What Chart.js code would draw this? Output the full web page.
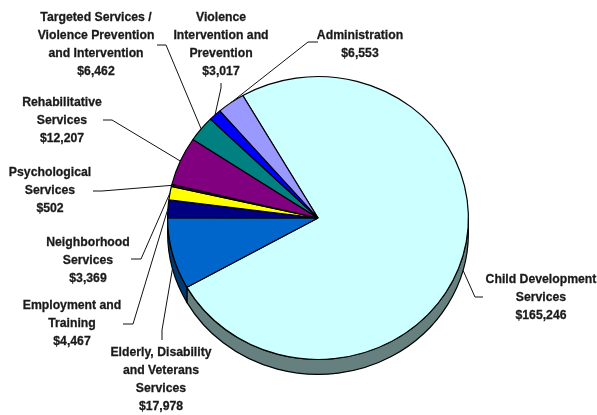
<!DOCTYPE html>
<html>
<head>
<meta charset="utf-8">
<style>
html, body { margin: 0; padding: 0; background: #fff; }
canvas { display: block; }
</style>
<script src="https://cdn.jsdelivr.net/npm/chart.js@4/dist/chart.umd.min.js"></script>
</head>
<body>
<canvas id="budget_chart" width="597" height="415"></canvas>
<script>
var categories = [
    "Child Development Services",
    "Elderly, Disability and Veterans Services",
    "Employment and Training",
    "Neighborhood Services",
    "Psychological Services",
    "Rehabilitative Services",
    "Targeted Services / Violence Prevention and Intervention",
    "Violence Intervention and Prevention",
    "Administration"
];

var amounts = [165246, 17978, 4467, 3369, 502, 12207, 6462, 3017, 6553];

var topColors = ["#CCFFFF", "#0066CC", "#000080", "#FFFF00", "#660066", "#800080", "#008080", "#0000FF", "#9999FF"];
var sideColors = ["#668080", "#003A73", "#000050", "#808000", "#330033", "#400040", "#004040", "#000080", "#4D4D80"];

// how each label breaks over its lines
var labelLines = [
    ["Child Development", "Services"],
    ["Elderly, Disability", "and Veterans", "Services"],
    ["Employment and", "Training"],
    ["Neighborhood", "Services"],
    ["Psychological", "Services"],
    ["Rehabilitative", "Services"],
    ["Targeted Services /", "Violence Prevention", "and Intervention"],
    ["Violence", "Intervention and", "Prevention"],
    ["Administration"]
];

// label centre x, first line y, then the leader's outer end and its elbow
var labelSpots = [
    { x: 541, y: 279, end: [483, 297], elbow: [475, 297] },
    { x: 161, y: 352, end: [162, 340], elbow: [162, 330] },
    { x: 72, y: 305, end: [123, 324], elbow: [133, 324] },
    { x: 88, y: 242, end: [131, 259], elbow: [141, 259] },
    { x: 50, y: 172, end: [93, 191], elbow: [102, 191] },
    { x: 62, y: 102, end: [103, 120], elbow: [112, 120] },
    { x: 96, y: 17, end: [157, 45], elbow: [166, 45] },
    { x: 221, y: 17, end: [221, 83], elbow: [221, 88] },
    { x: 360, y: 35, end: [318, 42], elbow: [308, 42] }
];

var squash = 142 / 151;
var depth = 15;
var lineHeight = 18;
var textNarrow = 0.9;

function money(v) {
    return "$" + v.toLocaleString("en-US");
}

// pie is round in Chart.js, tilt it by squashing y around the centre
function tilt(ctx, arc) {
    ctx.translate(arc.x, arc.y);
    ctx.scale(1, squash);
    ctx.translate(-arc.x, -arc.y);
}

var tiltedPie = {
    id: "tiltedPie",
    beforeDatasetsDraw: function (chart) {
        var ctx = chart.ctx;
        var arcs = chart.getDatasetMeta(0).data;

        // rim below the front half of the pie
        arcs.forEach(function (arc, i) {
            var ry = arc.outerRadius * squash;
            [0, Math.PI * 2, -Math.PI * 2].forEach(function (shift) {
                var from = Math.max(arc.startAngle + shift, 0);
                var to = Math.min(arc.endAngle + shift, Math.PI);
                if (to <= from) return;
                ctx.beginPath();
                ctx.ellipse(arc.x, arc.y, arc.outerRadius, ry, 0, from, to);
                ctx.ellipse(arc.x, arc.y + depth, arc.outerRadius, ry, 0, to, from, true);
                ctx.closePath();
                ctx.fillStyle = sideColors[i];
                ctx.fill();
                ctx.strokeStyle = "#000";
                ctx.lineWidth = 1.2;
                ctx.stroke();
            });
        });

        ctx.save();
        tilt(ctx, arcs[0]);
    },
    afterDatasetsDraw: function (chart) {
        var ctx = chart.ctx;
        ctx.restore();

        ctx.textAlign = "center";
        ctx.textBaseline = "middle";
        ctx.font = "bold 13.6px 'Liberation Sans', Arial, sans-serif";

        chart.getDatasetMeta(0).data.forEach(function (arc, i) {
            var spot = labelSpots[i];
            var mid = (arc.startAngle + arc.endAngle) / 2;
            var edgeX = arc.x + Math.cos(mid) * arc.outerRadius;
            var edgeY = arc.y + Math.sin(mid) * arc.outerRadius * squash;
            // front slices hang their leader from the bottom of the rim
            if (Math.sin(mid) > 0) edgeY += depth;

            ctx.beginPath();
            ctx.moveTo(spot.end[0], spot.end[1]);
            ctx.lineTo(spot.elbow[0], spot.elbow[1]);
            ctx.lineTo(edgeX, edgeY);
            ctx.strokeStyle = "#111";
            ctx.lineWidth = 1;
            ctx.stroke();

            ctx.fillStyle = "#1a1a1a";
            ctx.strokeStyle = "#1a1a1a";
            ctx.lineWidth = 0.3;
            var lines = labelLines[i].concat(money(amounts[i]));
            lines.forEach(function (text, n) {
                ctx.save();
                ctx.translate(spot.x, spot.y + n * lineHeight);
                ctx.scale(textNarrow, 1);
                ctx.fillText(text, 0, 0);
                ctx.strokeText(text, 0, 0);
                ctx.restore();
            });
        });
    }
};

var ctxBudget = document.getElementById("budget_chart").getContext("2d");

var budget_chart = new Chart(ctxBudget, {
    type: "pie",
    data: {
        labels: categories,
        datasets: [{
            data: amounts,
            backgroundColor: topColors,
            borderColor: "#000",
            borderWidth: 1.2
        }]
    },
    options: {
        responsive: false,
        animation: false,
        rotation: -30,
        layout: { padding: { left: 167, right: 128, top: 67, bottom: 46 } },
        plugins: {
            legend: { display: false },
            tooltip: { enabled: false }
        }
    },
    plugins: [tiltedPie]
});
</script>
</body>
</html>
